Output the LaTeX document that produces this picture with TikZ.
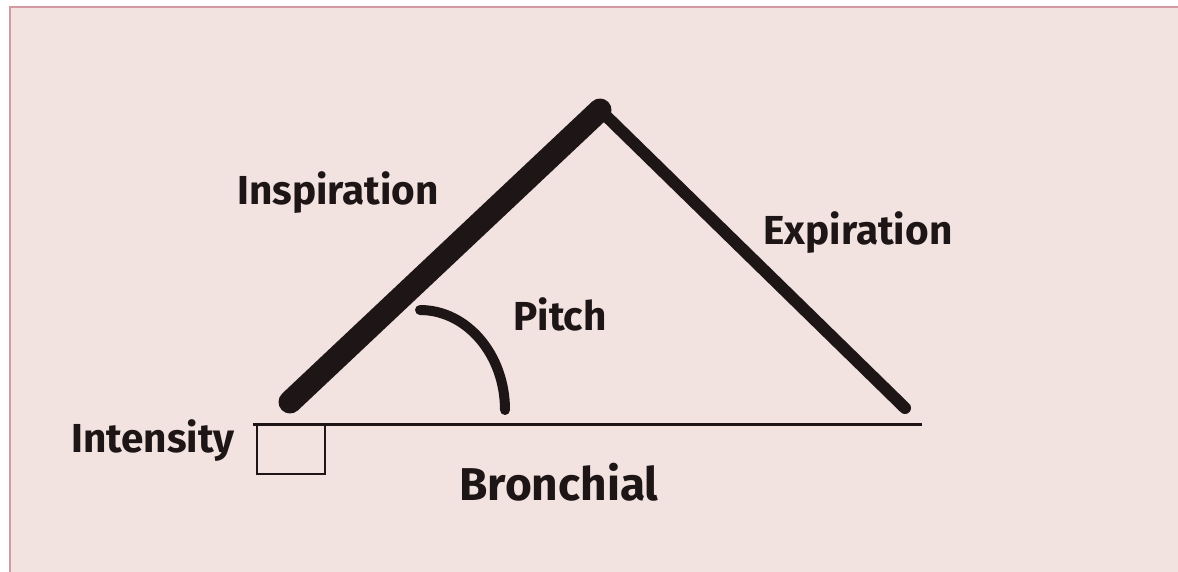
\documentclass[tikz,border=0pt]{standalone}
\usepackage{fontspec}
\setmainfont{Fira Sans}
\definecolor{bg}{HTML}{F2E3E0}
\definecolor{rim}{HTML}{D49AA4}
\definecolor{ink}{HTML}{1E1616}
\begin{document}
\begin{tikzpicture}[x=1pt,y=-1pt,
  lbl/.style={font=\bfseries\fontsize{40.5}{40.5}\selectfont, text=ink, inner sep=0pt, anchor=base},
  bigl/.style={font=\bfseries\fontsize{46}{46}\selectfont, text=ink, inner sep=0pt, anchor=base}]
\useasboundingbox (0,0) rectangle (1178,572);
\fill[white] (0,0) rectangle (1178,572);
\fill[bg] (10,7) rectangle (1178,572);
\draw[rim, line width=1.5pt] (10,572) -- (10,7) -- (1178,7);
% key points
\coordinate (L) at (290,402);
\coordinate (A) at (600,110);
\coordinate (R) at (905,408);
\coordinate (B0) at (253,424);
\coordinate (B1) at (922,424);
\coordinate (S0) at (257,424);
\coordinate (S1) at (325,474);
\coordinate (P0) at (420,310);
% lines
\draw[ink, line width=23pt, line cap=round] (L) -- (A);
\draw[ink, line width=12pt, line cap=round] (A) -- (R);
\draw[ink, line width=3pt] (B0) -- (B1);
\draw[ink, line width=2pt] (S0) rectangle (S1);
\draw[ink, line width=10pt, line cap=round] (P0) arc[start angle=-90, end angle=0, x radius=85, y radius=100];
% labels
\node[lbl] (insp) at (338,205) {Inspiration};
\node[lbl] (expi) at (858,244) {Expiration};
\node[lbl] (pitch) at (560,330) {Pitch};
\node[lbl] (inten) at (153,452) {Intensity};
\node[bigl] (bron) at (559,500) {Bronchial};
\end{tikzpicture}
\end{document}
